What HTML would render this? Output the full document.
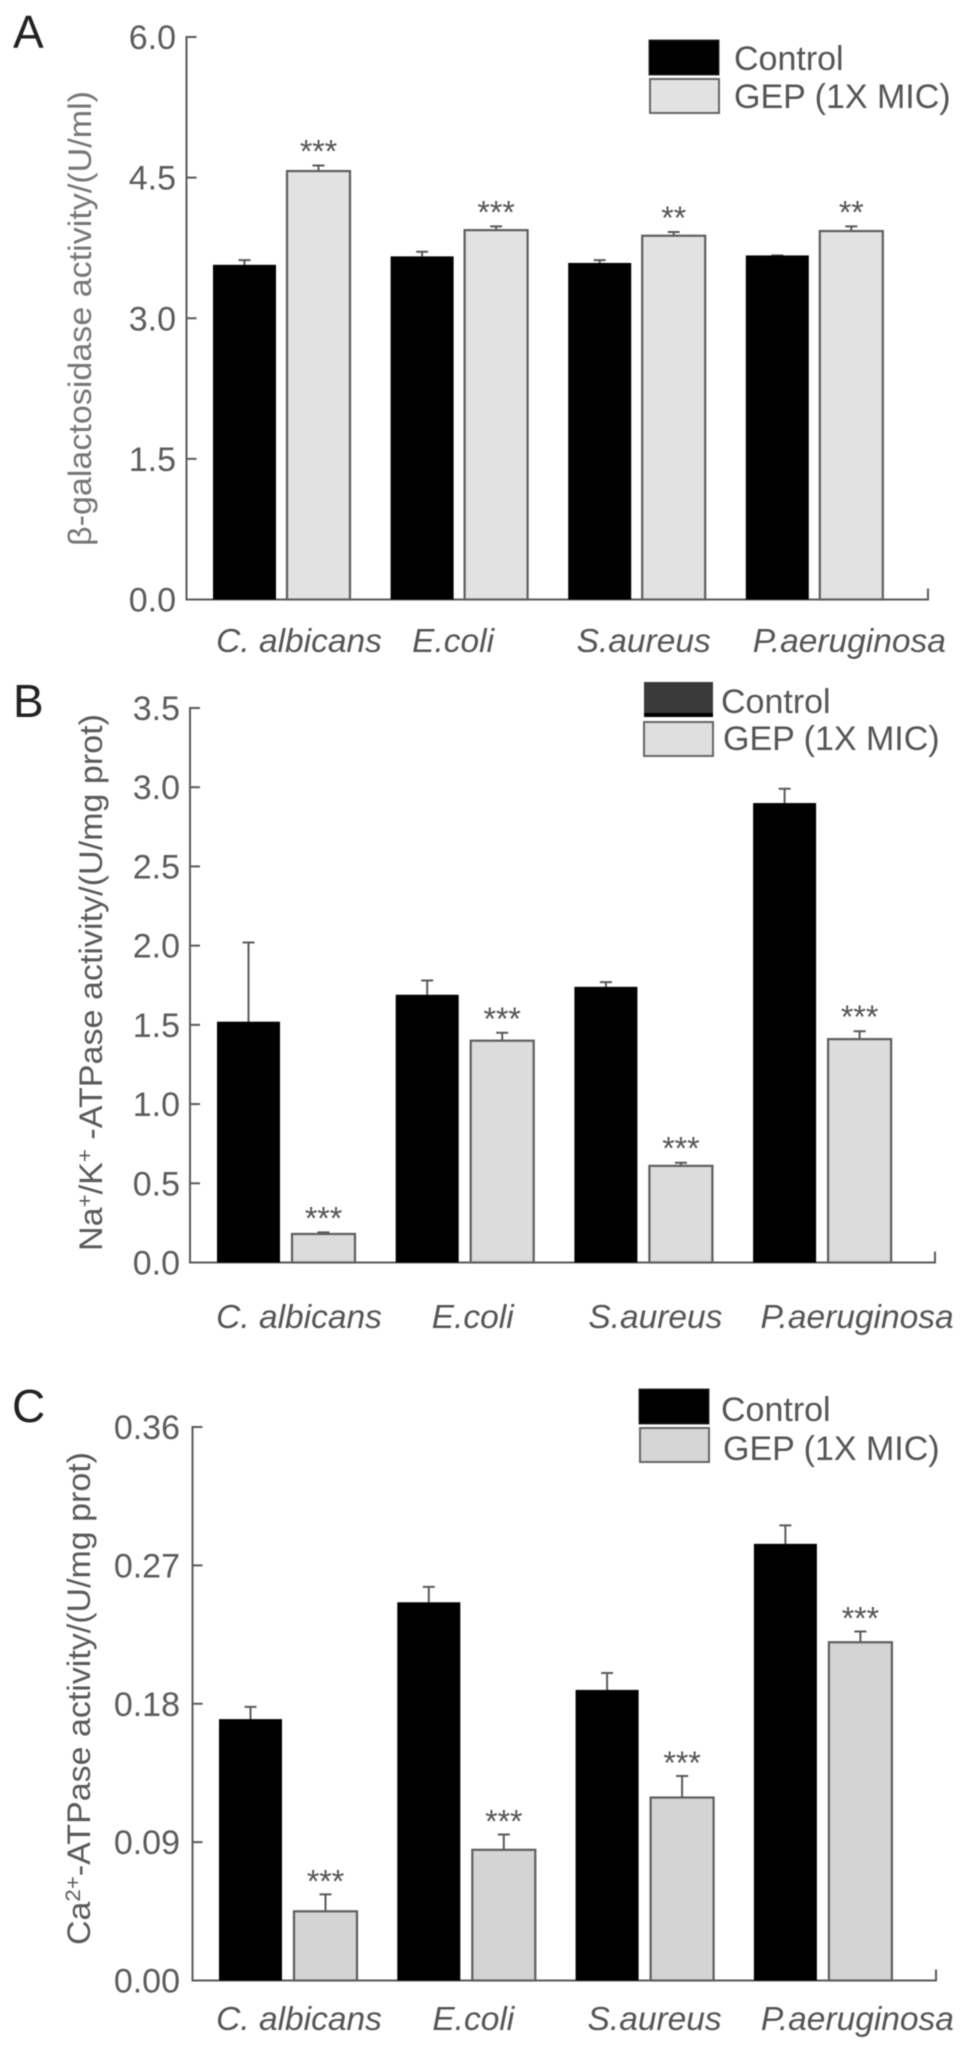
<!DOCTYPE html>
<html lang="en">
<head>
<meta charset="utf-8">
<title>Enzyme activity bar charts</title>
<style>
html,body{margin:0;padding:0;background:#fff;}
svg{display:block;filter:blur(0.6px);}
text{font-family:"Liberation Sans",sans-serif;}
.tick{font-size:34px;fill:#5c5c5c;text-anchor:end;}
.cat{font-size:33.5px;fill:#555;font-style:italic;text-anchor:middle;}
.leg{font-size:34px;fill:#555;}
.ytitle{font-size:32px;fill:#5a5a5a;}
.letter{font-size:46px;fill:#222;}
.star{font-size:32px;fill:#555;text-anchor:middle;}
</style>
</head>
<body>
<svg id="figure" xmlns="http://www.w3.org/2000/svg" width="969" height="2051" viewBox="0 0 969 2051">
  <rect width="969" height="2051" fill="#fff"/>

  <text class="letter" x="13" y="48">A</text>
  <text class="letter" x="13" y="717">B</text>
  <text class="letter" x="12" y="1422">C</text>

  <text class="ytitle" style="fill:#777" transform="translate(91,546) rotate(-90)" textLength="455" lengthAdjust="spacingAndGlyphs">β-galactosidase activity/(U/ml)</text>
  <text class="ytitle" transform="translate(102,1251) rotate(-90)" textLength="537" lengthAdjust="spacingAndGlyphs">Na<tspan dy="-10" font-size="21">+</tspan><tspan dy="10">/K</tspan><tspan dy="-10" font-size="21">+</tspan><tspan dy="10"> -ATPase activity/(U/mg prot)</tspan></text>
  <text class="ytitle" transform="translate(90,1945) rotate(-90)" textLength="493" lengthAdjust="spacingAndGlyphs">Ca<tspan dy="-10" font-size="21">2+</tspan><tspan dy="10">-ATPase activity/(U/mg prot)</tspan></text>

  <g>
    <rect x="649" y="40" width="70" height="35" fill="#000" stroke="#333" stroke-width="1"/>
    <rect x="650" y="79" width="69" height="34" fill="#e2e2e2" stroke="#666" stroke-width="2"/>
    <text class="leg" x="734" y="70">Control</text>
    <text class="leg" x="734" y="108">GEP (1X MIC)</text>
  </g>
  <g>
    <rect x="644" y="682" width="69" height="35" fill="#3a3a3a"/>
    <rect x="644" y="713" width="69" height="4" fill="#000"/>
    <rect x="644" y="722" width="69" height="34" fill="#dfdfdf" stroke="#666" stroke-width="2"/>
    <text class="leg" x="721" y="713">Control</text>
    <text class="leg" x="723" y="750">GEP (1X MIC)</text>
  </g>
  <g>
    <rect x="639" y="1389" width="70" height="35" fill="#000" stroke="#333" stroke-width="1"/>
    <rect x="640" y="1428" width="69" height="34" fill="#d6d6d6" stroke="#666" stroke-width="2"/>
    <text class="leg" x="721" y="1421">Control</text>
    <text class="leg" x="723" y="1460">GEP (1X MIC)</text>
  </g>
</svg>
<script>
// ---- shared categories ----
var categories = ["C. albicans", "E.coli", "S.aureus", "P.aeruginosa"];

// ---- panel A ----
var panelATicks = ["0.0", "1.5", "3.0", "4.5", "6.0"];
var panelAControl = [3.57, 3.66, 3.59, 3.67];
var panelAControlErrTop = [3.62, 3.71, 3.62, 3.67];
var panelAGep = [4.57, 3.94, 3.88, 3.93];
var panelAGepErrTop = [4.63, 3.98, 3.92, 3.98];
var panelASignificance = ["***", "***", "**", "**"];

// ---- panel B ----
var panelBTicks = ["0.0", "0.5", "1.0", "1.5", "2.0", "2.5", "3.0", "3.5"];
var panelBControl = [1.52, 1.69, 1.74, 2.90];
var panelBControlErrTop = [2.02, 1.78, 1.77, 2.99];
var panelBGep = [0.18, 1.40, 0.61, 1.41];
var panelBGepErrTop = [0.19, 1.45, 0.63, 1.46];
var panelBSignificance = ["***", "***", "***", "***"];

// ---- panel C ----
var panelCTicks = ["0.00", "0.09", "0.18", "0.27", "0.36"];
var panelCControl = [0.170, 0.246, 0.189, 0.284];
var panelCControlErrTop = [0.178, 0.256, 0.200, 0.296];
var panelCGep = [0.045, 0.085, 0.119, 0.220];
var panelCGepErrTop = [0.056, 0.095, 0.133, 0.227];
var panelCSignificance = ["***", "***", "***", "***"];

var SVG_NS = "http://www.w3.org/2000/svg";
var figure = document.getElementById("figure");

function shape(tag, parent, attrs) {
  var el = document.createElementNS(SVG_NS, tag);
  for (var k in attrs) { el.setAttribute(k, attrs[k]); }
  parent.appendChild(el);
  return el;
}

function drawPanel(p) {
  var group = shape("g", figure, {});
  
  

  var maxTick = parseFloat(p.ticks[p.ticks.length - 1]);
  function yScale(v) { return p.y0 - (v / maxTick) * (p.y0 - p.yTop); }
  function xControl(i) { return p.x0 + i * p.step; }
  function xGep(i) { return p.x0 + i * p.step + p.pairOffset; }
  var stroke = "#5a5a5a";

  var yAxis = shape("line", group, { x1: p.axisX, x2: p.axisX, y1: p.yTop - 1, y2: p.y0 + 1, stroke: stroke, "stroke-width": 2 });
  
  

  var xAxis = shape("path", group, { d: "M" + p.axisX + " " + p.y0 + "H" + p.axisEnd + "V" + (p.y0 - 11), fill: "none", stroke: stroke, "stroke-width": 2 });
  
  

  p.ticks.forEach(function (t) {
    var y = yScale(parseFloat(t));
    if (parseFloat(t) > 0) {
      var tick = shape("line", group, { x1: p.axisX, x2: p.axisX + 10, y1: y, y2: y, stroke: stroke, "stroke-width": 2 });
      
      
    }
    var label = shape("text", group, { x: p.tickRight, y: y + 12, "class": "tick" });
    
    
    label.textContent = t;
  });

  function errorBar(xc, top, base, name) {
    var err = shape("path", group, { d: "M" + xc + " " + base + "V" + top + "M" + (xc - 6) + " " + top + "H" + (xc + 6), fill: "none", stroke: stroke, "stroke-width": 2 });
    
    
  }

  categories.forEach(function (c, i) {
    var cx = xControl(i), gx = xGep(i);
    var topC = yScale(p.control[i]), topG = yScale(p.gep[i]);

    errorBar(cx + p.barW / 2, yScale(p.controlErr[i]), topC, 'control-error-bar');
    errorBar(gx + p.barW / 2, yScale(p.gepErr[i]), topG, 'gep-error-bar');

    var barC = shape("rect", group, { x: cx, y: topC, width: p.barW, height: p.y0 - topC, fill: "#000" });
    
    

    var barG = shape("rect", group, { x: gx, y: topG, width: p.barW, height: p.y0 - topG, fill: p.gepFill, stroke: "#5e5e5e", "stroke-width": 2.2 });
    
    

    var star = shape("text", group, { x: gx + p.barW / 2, y: yScale(p.gepErr[i]) - p.starGap + 18, "class": "star" });
    
    
    star.textContent = p.significance[i];

    var cat = shape("text", group, { x: cx + (p.pairOffset + p.barW) / 2 + p.labelNudge[i], y: p.labelY, "class": "cat" });
    
    
    cat.textContent = c;
  });
}

drawPanel({
  id: "panel-a", ticks: panelATicks, control: panelAControl, controlErr: panelAControlErrTop,
  gep: panelAGep, gepErr: panelAGepErrTop, significance: panelASignificance,
  y0: 599.5, yTop: 37, axisX: 186.5, axisEnd: 928, tickRight: 176,
  x0: 213, step: 177.6, pairOffset: 74, barW: 63, gepFill: "#e2e2e2", starGap: 21,
  labelY: 652, labelNudge: [17.5, -6, 7, 35]
});
drawPanel({
  id: "panel-b", ticks: panelBTicks, control: panelBControl, controlErr: panelBControlErrTop,
  gep: panelBGep, gepErr: panelBGepErrTop, significance: panelBSignificance,
  y0: 1262.5, yTop: 708, axisX: 190, axisEnd: 935, tickRight: 180,
  x0: 217, step: 178.7, pairOffset: 75, barW: 63, gepFill: "#dcdcdc", starGap: 21,
  labelY: 1328, labelNudge: [13, 8, 12, 35]
});
drawPanel({
  id: "panel-c", ticks: panelCTicks, control: panelCControl, controlErr: panelCControlErrTop,
  gep: panelCGep, gepErr: panelCGepErrTop, significance: panelCSignificance,
  y0: 1980.5, yTop: 1427, axisX: 192.5, axisEnd: 936, tickRight: 180,
  x0: 219, step: 178.3, pairOffset: 75, barW: 63, gepFill: "#d4d4d4", starGap: 20,
  labelY: 2030, labelNudge: [11, 7, 10, 34.5]
});
</script>
</body>
</html>
